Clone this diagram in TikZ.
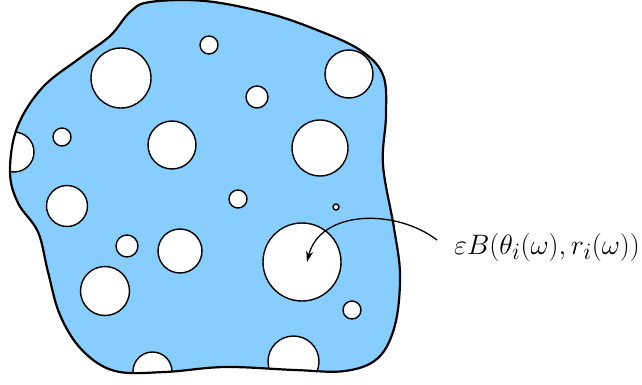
\documentclass[tikz,border=0pt]{standalone}
\usepackage{graphicx}
\usetikzlibrary{arrows.meta}
\definecolor{domainblue}{RGB}{135,206,255}
\tikzset{
  domainfill/.style={fill=domainblue},
  domainedge/.style={draw=black, line width=2.2pt},
  hole/.style={fill=white, draw=black, line width=1.4pt},
  pointer/.style={draw=black, line width=1.3pt, -{Stealth[length=11pt,width=7pt]}},
  lbl/.style={inner sep=0pt, anchor=west, font=\fontsize{24.88}{29}\selectfont}
}
\def\domainpath{plot[smooth cycle, tension=0.6] coordinates {
  (150,2) (205,1) (267,13) (317,30) (360,50) (383,75) (386,115) (383,165)
  (394,228) (400,275) (395,325) (378,358) (345,371) (295,370)
  (225,367) (165,372) (115,371) (82,350) (60,315) (48,272)
  (38,232) (18,203) (10,172) (17,128) (42,88) (80,58) (110,36) (130,12)}}
\begin{document}
\begin{tikzpicture}[x=1pt,y=-1pt]
\useasboundingbox (0,0) rectangle (642,385);
\path[domainfill] \domainpath;
\begin{scope}
  \clip \domainpath;
  \foreach \cx/\cy/\r in {
    121/78/30, 209/45/9, 349/74/24, 257/97/11, 62/137/9, 14/152/20,
    172/145/24, 320/148/28, 67/206/20.5, 238/199/9, 336/207/3,
    127/246/11, 180/251/22, 302/262/39, 105/291/24.5, 352/310/9,
    152.5/371.5/19.5, 293.5/361.5/25.5}
    \path[hole] (\cx,\cy) circle[radius=\r];
\end{scope}
\path[domainedge] \domainpath;
\node[lbl] (label) at (454,247) {\scalebox{1.13}{$\varepsilon B(\theta_i(\omega),r_i(\omega))$}};
\coordinate (src) at (437,240);
\coordinate (tip) at (307,262);
\draw[pointer] (src) .. controls (395,208) and (320,210) .. (tip);
\end{tikzpicture}
\end{document}
